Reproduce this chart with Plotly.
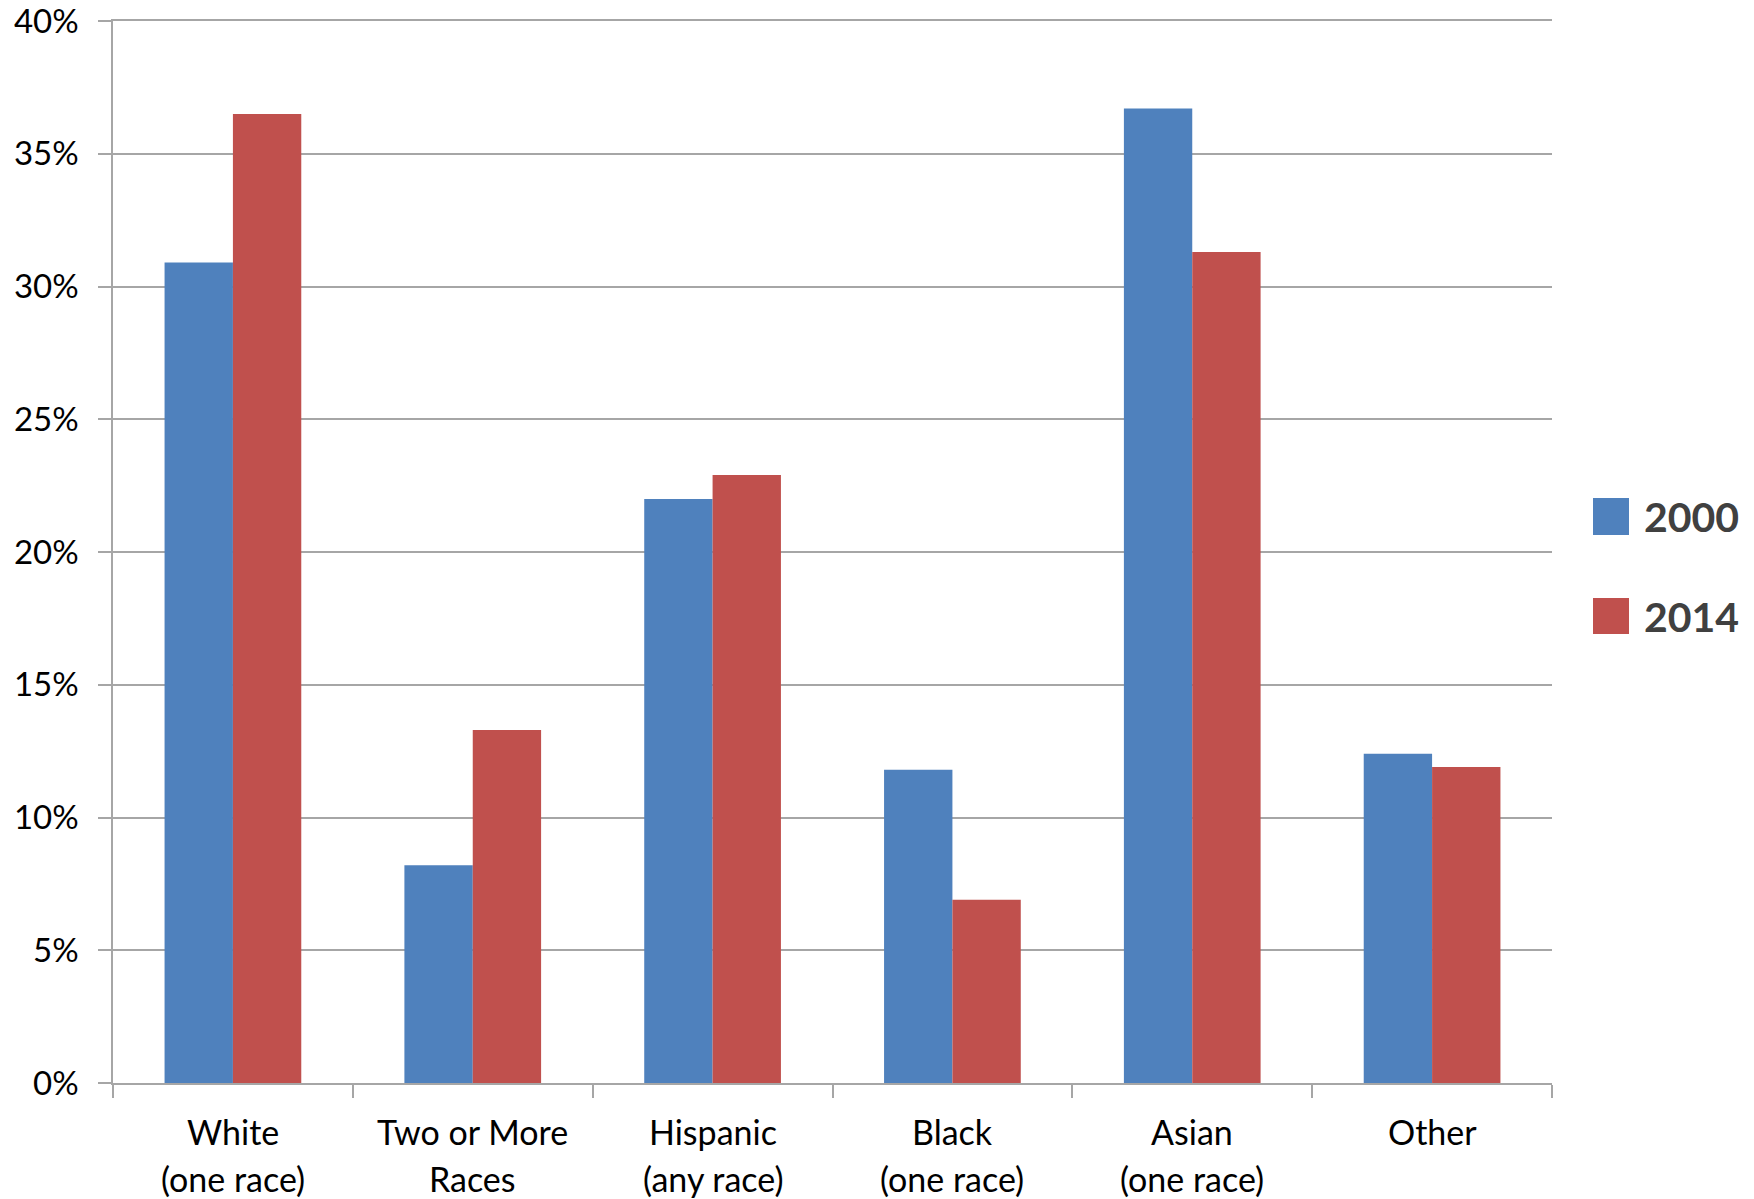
import plotly.graph_objects as go

# Share of each group, by year (percent)
categories = ["White", "Two or More", "Hispanic", "Black", "Asian", "Other"]
subtitles = ["(one race)", "Races", "(any race)", "(one race)", "(one race)", ""]
years = ["2000", "2014"]
values_2000 = [30.9, 8.2, 22.0, 11.8, 36.7, 12.4]
values_2014 = [36.5, 13.3, 22.9, 6.9, 31.3, 11.9]
y_ticks = [0, 5, 10, 15, 20, 25, 30, 35, 40]
y_tick_labels = [f"{v}%" for v in y_ticks]

BLUE = "#4F81BD"
RED = "#C0504D"
GRID = "#A6A6A6"
FONT = "Lato"

W, H = 1754, 1199
M_L, M_R, M_T, M_B = 113, 202, 21, 116
PW = W - M_L - M_R
PH = H - M_T - M_B


def px_x(x):
    return (x - M_L) / PW


def px_y(y):
    return (H - M_B - y) / PH


fig = go.Figure()
for name, vals, col in [(years[0], values_2000, BLUE), (years[1], values_2014, RED)]:
    fig.add_trace(go.Bar(
        x=categories, y=vals, name=name,
        marker=dict(color=col, line=dict(width=0)),
        showlegend=False,
    ))

annotations = []
# two-line category labels under the axis
for cat, sub in zip(categories, subtitles):
    annotations.append(dict(
        x=cat, xref="x", y=0, yref="paper", yanchor="middle", yshift=-48,
        text=cat, showarrow=False, font=dict(family=FONT, size=34, color="#000000"),
    ))
    if sub:
        annotations.append(dict(
            x=cat, xref="x", y=0, yref="paper", yanchor="middle", yshift=-95,
            text=sub, showarrow=False, font=dict(family=FONT, size=34, color="#000000"),
        ))

# legend: large swatches with bold year labels
shapes = []
for name, col, top, bot, mid in [(years[0], BLUE, 498, 535, 516), (years[1], RED, 598, 634, 616)]:
    shapes.append(dict(
        type="rect", xref="paper", yref="paper",
        x0=px_x(1593), x1=px_x(1629), y0=px_y(bot), y1=px_y(top),
        fillcolor=col, line=dict(width=0),
    ))
    annotations.append(dict(
        x=px_x(1642), xref="paper", y=px_y(mid), yref="paper",
        xanchor="left", yanchor="middle", text=f"<b>{name}</b>", showarrow=False,
        font=dict(family=FONT, size=41, color="#404040"),
    ))

fig.update_layout(
    width=W, height=H,
    margin=dict(l=M_L, r=M_R, t=M_T, b=M_B, pad=0, autoexpand=False),
    paper_bgcolor="white", plot_bgcolor="white",
    barmode="group", bargap=0.43, bargroupgap=0,
    font=dict(family=FONT, size=33, color="#000000"),
    annotations=annotations, shapes=shapes,
    xaxis=dict(
        showticklabels=False, tickson="boundaries", ticks="outside",
        ticklen=13, tickcolor=GRID, tickwidth=1.5,
        showline=True, linecolor=GRID, linewidth=1.5, mirror=True,
        showgrid=False, zeroline=False,
    ),
    yaxis=dict(
        range=[0, 40], tickvals=y_ticks, ticktext=y_tick_labels,
        ticks="outside", ticklen=13, tickcolor=GRID, tickwidth=1.5,
        ticklabelstandoff=13, ticklabeloverflow="allow",
        showline=True, linecolor=GRID, linewidth=1.5,
        showgrid=True, gridcolor=GRID, gridwidth=1.5,
        zeroline=False,
        tickfont=dict(family=FONT, size=33, color="#000000"),
    ),
)

fig.write_html("out.html")
